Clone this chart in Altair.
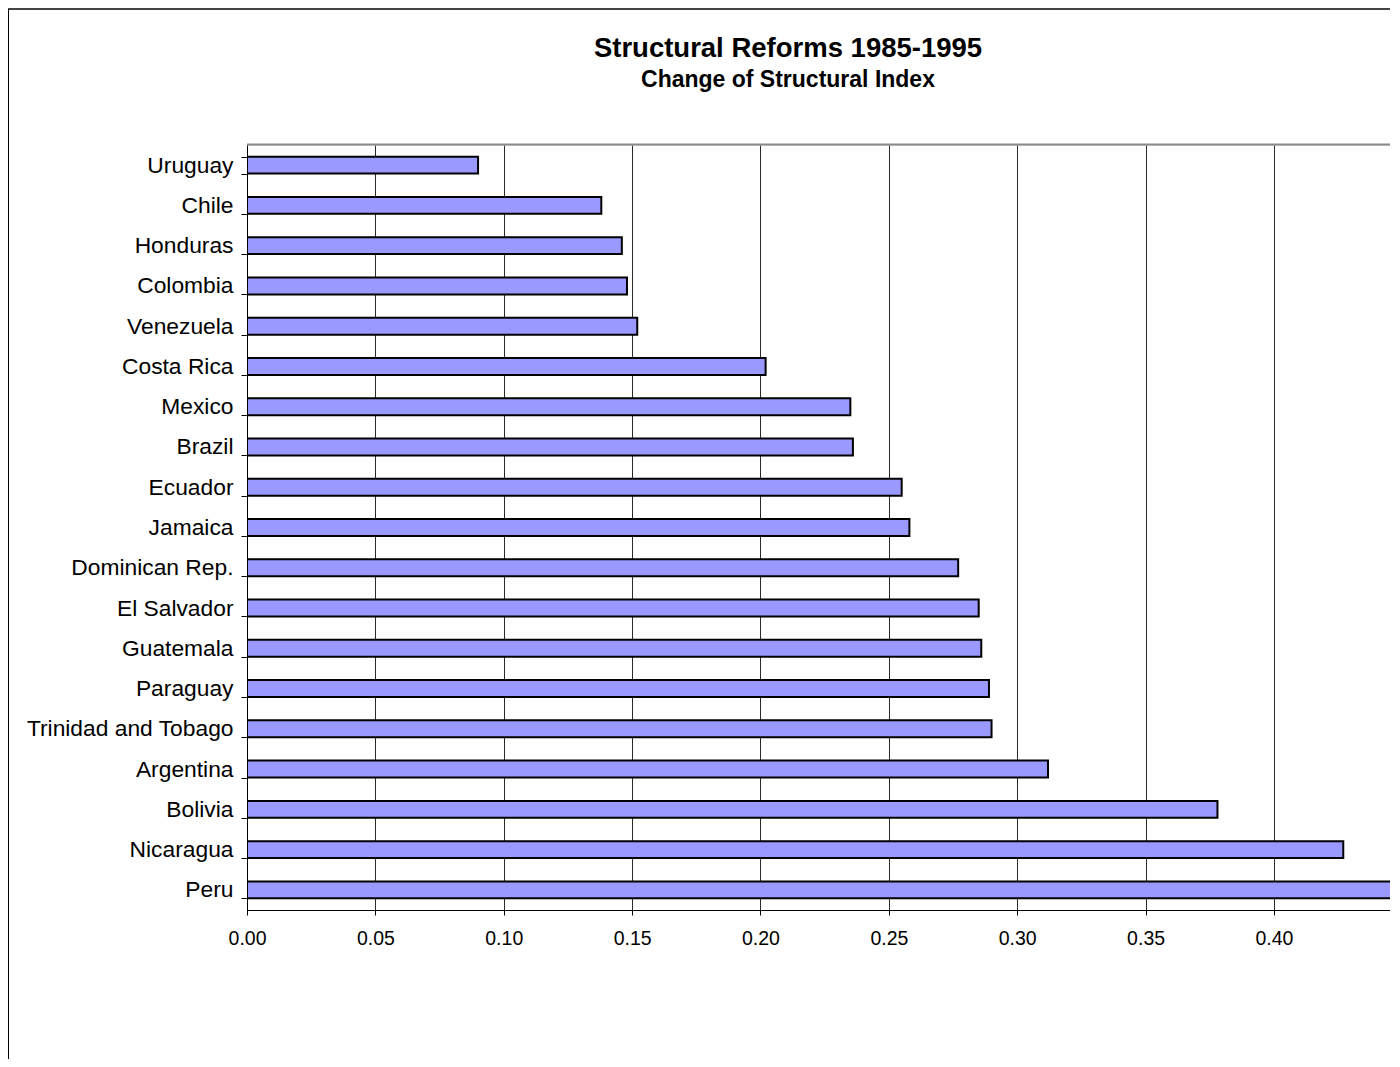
import altair as alt
import pandas as pd

countries = ["Uruguay", "Chile", "Honduras", "Colombia", "Venezuela", "Costa Rica",
             "Mexico", "Brazil", "Ecuador", "Jamaica", "Dominican Rep.", "El Salvador",
             "Guatemala", "Paraguay", "Trinidad and Tobago", "Argentina", "Bolivia",
             "Nicaragua", "Peru"]
values = [0.090, 0.138, 0.146, 0.148, 0.152, 0.202, 0.235, 0.236, 0.255, 0.258,
          0.277, 0.285, 0.286, 0.289, 0.290, 0.312, 0.378, 0.427, 0.470]
x_ticks = [0.00, 0.05, 0.10, 0.15, 0.20, 0.25, 0.30, 0.35, 0.40]
title_text = "Structural Reforms 1985-1995"
subtitle_text = "Change of Structural Index"

df = pd.DataFrame({"country": countries, "value": values})

W, H = 1143, 765
FONT = "Liberation Sans"

bars = alt.Chart(df).mark_bar(
    fill="#9999FF", stroke="#000000", strokeWidth=2, clip=True
).encode(
    x=alt.X("value:Q",
            scale=alt.Scale(domain=[0, 0.4452], nice=False, zero=True),
            axis=alt.Axis(values=x_ticks, format=".2f", title=None,
                          labelFontSize=19.5, labelFont=FONT, labelColor="#000000",
                          labelFlush=False,
                          tickSize=5, tickColor="#000000", domainColor="#000000",
                          labelPadding=14, grid=True, gridColor="#2a2a2a",
                          gridWidth=1)),
    y=alt.Y("country:N", sort=countries,
            scale=alt.Scale(paddingInner=0.58, paddingOuter=0.29),
            axis=alt.Axis(title=None, tickBand="extent", labelFontSize=22.8,
                          labelFont=FONT, labelColor="#000000", tickSize=6,
                          tickColor="#000000", domainColor="#000000",
                          labelPadding=8, labelLimit=400, grid=False)),
)

one = pd.DataFrame({"t": [title_text], "s": [subtitle_text]})
top_border = alt.Chart(one).mark_rule(color="#8a8a8a", strokeWidth=2).encode(
    x=alt.value(0), x2=alt.value(W), y=alt.value(-0.5))
frame_top = alt.Chart(one).mark_rule(color="#444444", strokeWidth=2).encode(
    x=alt.value(-239), x2=alt.value(W), y=alt.value(-136))
frame_left = alt.Chart(one).mark_rule(color="#000000", strokeWidth=1).encode(
    x=alt.value(-238.5), y=alt.value(-136), y2=alt.value(H + 149))
title_mark = alt.Chart(one).mark_text(
    font=FONT, fontSize=27.5, fontWeight="bold", color="#000000",
    align="center", baseline="alphabetic"
).encode(text="t:N", x=alt.value(541), y=alt.value(-88))
subtitle_mark = alt.Chart(one).mark_text(
    font=FONT, fontSize=23, fontWeight="bold", color="#000000",
    align="center", baseline="alphabetic"
).encode(text="s:N", x=alt.value(541), y=alt.value(-58))

chart = alt.layer(top_border, bars, frame_top, frame_left, title_mark,
                  subtitle_mark).properties(
    width=W, height=H,
    autosize=alt.AutoSizeParams(type="none"),
    padding={"left": 239, "top": 137, "right": 0, "bottom": 149},
).configure_view(stroke=None).configure(background="white")

chart.save("out.html", embed_options={"renderer": "svg", "actions": False})
